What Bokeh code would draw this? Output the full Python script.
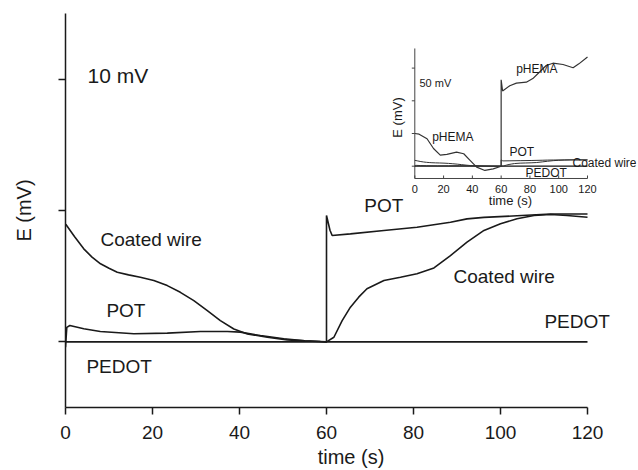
import math
from bokeh.plotting import figure
from bokeh.models import Range1d, FixedTicker, Label, CustomJSTickFormatter
from bokeh.embed import file_html
from bokeh.resources import INLINE

# ---------------- data (E in mV vs time in s) ----------------
cw_t = [0, 0.1, 2.1, 4.2, 6.1, 8.05, 10, 11.9, 14.5, 17.2, 20.3, 23.4, 26.4, 29.5, 32.6, 35.6,
        38.7, 41.8, 46.4, 51, 55, 58.6, 60,
        61.7, 63.6, 65.5, 67.4, 69.3, 73.2, 77, 80.8, 84.7, 88.5, 92.3, 96.2, 100, 103.8,
        107.7, 111.5, 115.3, 120]
cw_E = [8.93, 8.93, 8.0, 7.08, 6.45, 5.94, 5.6, 5.3, 5.1, 4.92, 4.67, 4.28, 3.77, 3.14, 2.38, 1.62,
        0.98, 0.6, 0.35, 0.15, 0.07, 0.02, 0.0,
        0.35, 1.62, 2.64, 3.4, 4.04, 4.67, 4.92, 5.18, 5.63, 6.57, 7.59, 8.48, 8.99, 9.37,
        9.62, 9.70, 9.62, 9.49]

pot_t = [0, 0.3, 1.0, 4.2, 8.0, 15.7, 23.4, 31.0, 37.2, 40.2, 44.8, 50.2, 55, 58.6, 60,
         60.0, 60.8, 61.3, 65.5, 73.2, 80.8, 88.5, 92.3, 96.2, 103.8, 111.5, 120]
pot_E = [-0.4, 1.1, 1.24, 0.99, 0.79, 0.61, 0.66, 0.79, 0.79, 0.74, 0.48, 0.23, 0.08, 0.02, 0.0,
         9.62, 8.5, 8.1, 8.22, 8.48, 8.73, 9.1, 9.36, 9.48, 9.6, 9.73, 9.73]

pedot_t = [0, 60, 120]
pedot_E = [0.0, 0.0, 0.0]

# inset: pHEMA (mV)
phema_t = [0, 3, 8.5, 13, 17.7, 22.3, 29, 34, 38.4, 43, 48.7, 54.5, 60,
           60, 61, 66, 70.6, 77.5, 82, 86.7, 91.3, 96, 103, 110, 114, 120]
phema_E = [50, 49, 42, 27, 17, 18, 21.5, 19, 9, -1.5, -6.5, -4, 0,
           132, 115, 123, 127, 128.5, 134, 144, 154, 157.5, 155.5, 150.5, 156.5, 167]

x_ticks = [0, 20, 40, 60, 80, 100, 120]
y_ticks = [0, 10, 20]
inset_x_ticks = [0, 20, 40, 60, 80, 100, 120]
inset_y_ticks = [0, 50, 100, 150]

FONT = "Liberation Sans"
INK = "#1a1a1a"

# frame: x 65..636 px, y 13..407 px ; 0..120 s spans 65..587 px
X_END = 571 / (522 / 120.0)

p = figure(width=638, height=470, output_backend="svg", toolbar_location=None,
           x_range=Range1d(0, X_END), y_range=Range1d(-5, 25),
           min_border_left=65, min_border_right=2, min_border_top=13, min_border_bottom=63)
p.grid.visible = False
p.outline_line_color = None
p.background_fill_color = "white"

for ax in (p.xaxis, p.yaxis):
    ax.axis_line_color = INK
    ax.axis_line_width = 1.5
    ax.major_tick_line_color = INK
    ax.major_tick_line_width = 1.5
    ax.major_tick_out = 7
    ax.major_tick_in = 0
    ax.minor_tick_line_color = None
    ax.axis_label_text_font = FONT
    ax.axis_label_text_font_size = "20px"
    ax.axis_label_text_font_style = "normal"
    ax.axis_label_text_color = INK
p.xaxis.bounds = (0, 120)
p.xaxis.ticker = FixedTicker(ticks=x_ticks)
p.yaxis.ticker = FixedTicker(ticks=y_ticks)
p.xaxis.major_label_text_font = FONT
p.xaxis.major_label_text_font_size = "19px"
p.xaxis.major_label_text_color = INK
p.xaxis.major_label_standoff = 11
p.xaxis.axis_label = "time (s)"
p.xaxis.axis_label_standoff = 4
p.yaxis.formatter = CustomJSTickFormatter(code="return ''")
p.yaxis.major_label_standoff = 0
p.yaxis.axis_label = "E (mV)"
p.yaxis.axis_label_standoff = 24

# main curves
p.line(pedot_t, pedot_E, line_color=INK, line_width=1.6)
p.line(pot_t, pot_E, line_color=INK, line_width=1.6)
p.line(cw_t, cw_E, line_color=INK, line_width=1.6)

def lab(x, y, text, size, align="left", angle=0.0, xr=None, yr=None, baseline="middle"):
    kw = {}
    if xr:
        kw["x_range_name"] = xr
        kw["y_range_name"] = yr
    p.add_layout(Label(x=x, y=y, text=text, text_font=FONT, text_font_size=size,
                       text_color=INK, text_align=align, text_baseline=baseline,
                       angle=angle, **kw))

# main annotations
lab(5.06, 20.3, "10 mV", "21px")
lab(8.05, 7.8, "Coated wire", "19px")
lab(9.4, 2.38, "POT", "19px")
lab(4.8, -1.88, "PEDOT", "19px")
lab(68.7, 10.38, "POT", "19px")
lab(89.2, 4.97, "Coated wire", "19px")
lab(110.1, 1.55, "PEDOT", "19px")

# ---------------- inset via extra ranges ----------------
kx = (587 - 414.3) / 120.0
ky = 32.7 / 50.0
ix0 = -(414.3 - 65) / kx
p.extra_x_ranges = {"ix": Range1d(ix0, ix0 + 571 / kx)}
p.extra_y_ranges = {"iy": Range1d(-(407 - 165.7) / ky, (165.7 - 13) / ky)}
iy_min = -18.8
iy_max = 180.0

IX = dict(x_range_name="ix", y_range_name="iy")
ICOL = "#333333"
# axes
p.segment(x0=[0, 0], y0=[iy_min, iy_min], x1=[120, 0], y1=[iy_min, iy_max],
          line_color="#444444", line_width=1.0, **IX)
p.ray(x=inset_x_ticks, y=[iy_min] * len(inset_x_ticks), length=3, length_units="screen",
      angle=math.pi / 2, line_color="#444444", line_width=1.0, **IX)
p.ray(x=[0] * len(inset_y_ticks), y=inset_y_ticks, length=3, length_units="screen",
      angle=math.pi, line_color="#444444", line_width=1.0, **IX)
for t in inset_x_ticks:
    lab(t, -34.1, str(t), "11px", align="center", xr="ix", yr="iy")
lab(66.5, -52.4, "time (s)", "13px", align="center", xr="ix", yr="iy")
lab(-12.0, 74.5, "E (mV)", "13px", align="center", angle=math.pi / 2, xr="ix", yr="iy")

# inset curves
p.line(pedot_t, pedot_E, line_color="#111111", line_width=1.3, **IX)
p.line(pot_t, pot_E, line_color=ICOL, line_width=1.0, **IX)
p.line(cw_t, cw_E, line_color=ICOL, line_width=1.0, **IX)
p.line(phema_t, phema_E, line_color=ICOL, line_width=1.2, **IX)

# inset annotations
lab((419 - 414.3) / kx, (165.7 - 82.7) / ky, "50 mV", "11px", xr="ix", yr="iy")
lab((431.7 - 414.3) / kx, (165.7 - 136.7) / ky, "pHEMA", "12px", xr="ix", yr="iy")
lab((515.7 - 414.3) / kx, (165.7 - 68.3) / ky, "pHEMA", "12px", xr="ix", yr="iy")
lab((509 - 414.3) / kx, (165.7 - 151) / ky, "POT", "12px", xr="ix", yr="iy")
lab((572 - 414.3) / kx, (165.7 - 162.5) / ky, "Coated wire", "12px", xr="ix", yr="iy")
lab((525 - 414.3) / kx, (165.7 - 172.5) / ky, "PEDOT", "12px", xr="ix", yr="iy")

open("out.html", "w").write(file_html(p, INLINE))
